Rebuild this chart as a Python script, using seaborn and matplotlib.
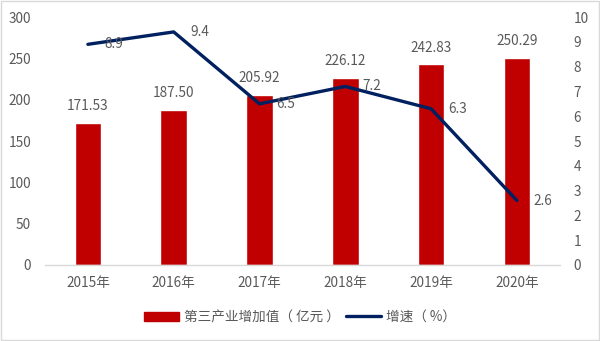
import matplotlib
matplotlib.use("Agg")
import matplotlib.pyplot as plt
import seaborn as sns
import pandas as pd
from matplotlib.patches import Rectangle, Patch
from matplotlib.lines import Line2D

years = ["2015年", "2016年", "2017年", "2018年", "2019年", "2020年"]
value_added = [171.53, 187.50, 205.92, 226.12, 242.83, 250.29]
growth = [8.9, 9.4, 6.5, 7.2, 6.3, 2.6]
value_labels = ["171.53", "187.50", "205.92", "226.12", "242.83", "250.29"]
growth_labels = ["8.9", "9.4", "6.5", "7.2", "6.3", "2.6"]

sns.set_theme(style="white")
plt.rcParams['font.family'] = ['Noto Sans CJK SC', 'DejaVu Sans']

BAR = "#C00000"
LINE = "#002060"
TXT = "#595959"
FS = 9.8

df = pd.DataFrame({"year": years, "value": value_added, "growth": growth})

fig = plt.figure(figsize=(6.0, 3.41), dpi=100)
ax = fig.add_axes([0.075, 0.223, 0.858, 0.727])
sns.barplot(data=df, x="year", y="value", color=BAR, width=0.31, ax=ax, saturation=1)
ax.set_ylim(0, 300)
ax.set_yticks(range(0, 301, 50))
ax.set_xlim(-0.5, 5.5)
ax.set_xlabel("")
ax.set_ylabel("")
for s in ["top", "right", "left"]:
    ax.spines[s].set_visible(False)
ax.spines["bottom"].set_color("#D9D9D9")
ax.spines["bottom"].set_linewidth(1)
ax.tick_params(axis="both", length=0, labelsize=FS, colors=TXT, pad=8)
ax.tick_params(axis="y", pad=10)

for i, (v, lab) in enumerate(zip(value_added, value_labels)):
    ax.annotate(lab, (i, v), xytext=(0, 7), textcoords="offset points",
                ha="center", va="bottom", fontsize=FS, color=TXT)

ax2 = ax.twinx()
sns.lineplot(x=list(range(len(years))), y=growth, color=LINE, linewidth=2.4, ax=ax2)
ax2.set_ylim(0, 10)
ax2.set_yticks(range(0, 11))
for s in ["top", "right", "left", "bottom"]:
    ax2.spines[s].set_visible(False)
ax2.tick_params(axis="y", length=0, labelsize=FS, colors=TXT, pad=10)
ax2.set_xlim(-0.5, 5.5)

for i, (g, lab) in enumerate(zip(growth, growth_labels)):
    ax2.annotate(lab, (i, g), xytext=(12, 0), textcoords="offset points",
                 ha="left", va="center", fontsize=FS, color=TXT)

handles = [Patch(facecolor=BAR, edgecolor=BAR),
           Line2D([0], [0], color=LINE, linewidth=2.4)]
fig.legend(handles, ["第三产业增加值（ 亿元 ）", "增速（ %）"], loc="center",
           bbox_to_anchor=(0.5, 0.07), ncol=2, frameon=False, fontsize=FS,
           labelcolor=TXT, handlelength=2.6, handleheight=0.7,
           columnspacing=0.4, handletextpad=0.4)

fig.patches.append(Rectangle((0.002, 0.003), 0.996, 0.994, transform=fig.transFigure,
                             fill=False, edgecolor="#D9D9D9", linewidth=1))

fig.savefig("out.png", dpi=100)
